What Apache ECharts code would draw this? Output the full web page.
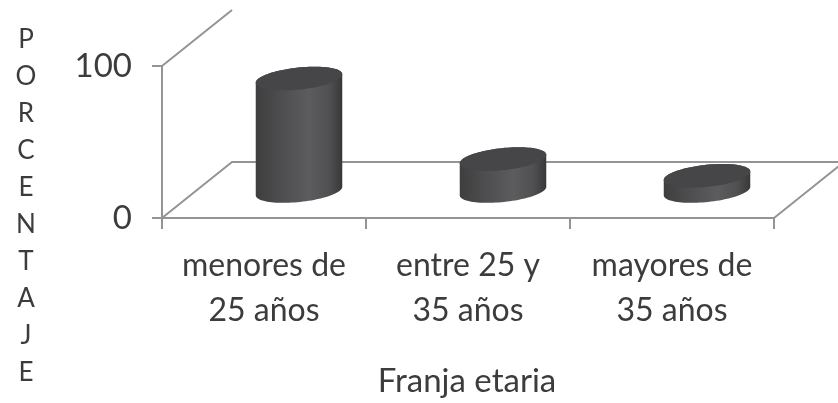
<!DOCTYPE html>
<html><head><meta charset="utf-8">
<style>html,body{margin:0;padding:0;background:#fff}#c{width:838px;height:403px}</style>
<script src="https://cdn.jsdelivr.net/npm/echarts@6/dist/echarts.min.js"></script>
</head><body><div id="c"></div>
<script>
const categories = ['menores de\n25 años', 'entre 25 y\n35 años', 'mayores de\n35 años'];
const values = [74, 21, 10];
const yTicks = [0, 100];
const yAxisLetters = ['P','O','R','C','E','N','T','A','J','E'];
const xAxisTitle = 'Franja etaria';
const FONT = 'Lato, "Open Sans", sans-serif';
const TEXT = '#3c3c3c', LINE = '#949494';
const DX = 70, DY = -56;
const gridLeft = 162, gridTop = 66, gridW = 612, gridH = 152;
const chart = echarts.init(document.getElementById('c'), null, {renderer:'canvas'});

function cylinder(params, api) {
  const v = api.value(1);
  const base = api.coord([api.value(0), 0]);
  const top = api.coord([api.value(0), v]);
  const cx = base[0] + DX / 2, by = base[1] + DY / 2 + 1, ty = top[1] + DY / 2 + 1;
  const rx = 43.5, ry = 11, tilt = 0.105;
  const ex = a => rx * Math.cos(a);
  const ey = a => ry * Math.sin(a);
  const pt = (a, y0) => [cx + ex(a) * Math.cos(tilt) + ey(a) * Math.sin(tilt), y0 - ex(a) * Math.sin(tilt) + ey(a) * Math.cos(tilt)];
  const pts = [];
  const steps = 48;
  for (let i = 0; i <= steps; i++) pts.push(pt(Math.PI * i / steps, by));
  pts.push(pt(Math.PI, ty));
  for (let i = 0; i <= steps; i++) pts.push(pt(Math.PI + Math.PI * i / steps, ty));
  pts.push(pt(0, by));
  const fill = new echarts.graphic.LinearGradient(0, 0, 1, 0, [
    {offset:0, color:'#3e3e3e'},{offset:0.3, color:'#4e4e50'},{offset:0.62, color:'#5c5c5e'},{offset:0.85, color:'#505052'},{offset:1, color:'#383838'}]);
  const lid = [];
  for (let i = 0; i <= 96; i++) lid.push(pt(2 * Math.PI * i / 96, ty));
  return {type:'group', children:[
    {type:'polygon', shape:{points:pts}, style:{fill}},
    {type:'polygon', shape:{points:lid}, style:{fill:'#464648'}}
  ]};
}

chart.setOption({
  animation:false,
  backgroundColor:'#fff',
  grid:{left:gridLeft, top:gridTop, width:gridW, height:gridH},
  xAxis:{type:'category', data:categories, boundaryGap:true,
    axisLine:{show:true, lineStyle:{color:LINE, width:2}},
    axisTick:{show:true, length:11, lineStyle:{color:LINE, width:2}},
    axisLabel:{color:TEXT, fontFamily:FONT, fontSize:32, lineHeight:45, margin:25, interval:0},
    splitLine:{show:false}},
  yAxis:{type:'value', min:yTicks[0], max:yTicks[1], interval:100,
    axisLine:{show:true, lineStyle:{color:LINE, width:2}},
    axisTick:{show:true, length:10, lineStyle:{color:LINE, width:2}},
    axisLabel:{color:TEXT, fontFamily:FONT, fontSize:33, margin:30},
    splitLine:{show:false}},
  graphic:[
    {type:'polyline', silent:true, z:0, shape:{points:[[gridLeft,gridTop],[gridLeft+DX,gridTop+DY]]}, style:{stroke:LINE, lineWidth:2, fill:null}},
    {type:'polyline', silent:true, z:0, shape:{points:[[gridLeft,gridTop+gridH],[gridLeft+DX,gridTop+gridH+DY],[gridLeft+gridW+DX,gridTop+gridH+DY],[gridLeft+gridW,gridTop+gridH]]}, style:{stroke:LINE, lineWidth:2, fill:null}},
    {type:'text', x:467, y:381, style:{text:xAxisTitle, fill:TEXT, font:'33px '+FONT, textAlign:'center', textVerticalAlign:'middle'}},
    ...yAxisLetters.map((t,i)=>({type:'text', x:26, y:40+i*37, style:{text:t, fill:TEXT, font:'26px '+FONT, textAlign:'center', textVerticalAlign:'middle'}}))
  ],
  series:[{type:'custom', renderItem:cylinder, data:categories.map((c,i)=>[i, values[i]]), encode:{x:0,y:1}, clip:false, z:5}]
});
</script></body></html>
